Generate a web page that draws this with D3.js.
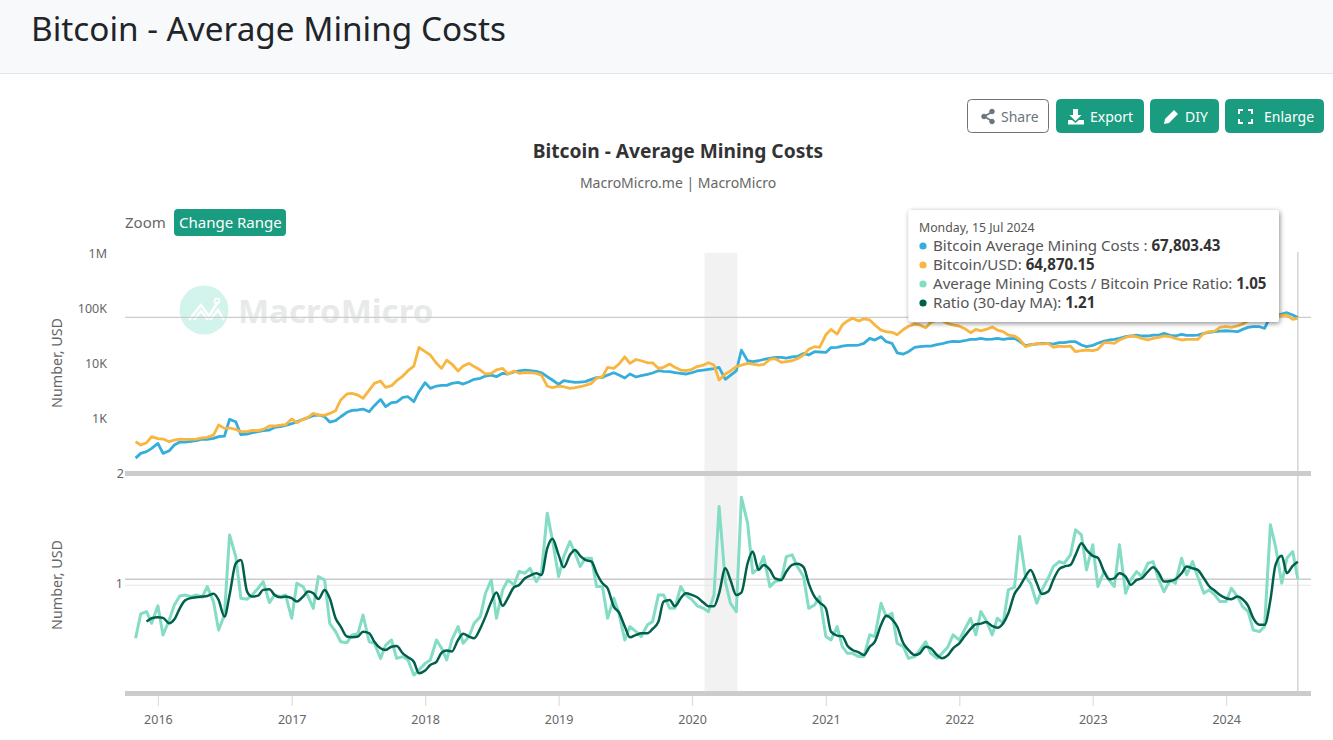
<!DOCTYPE html>
<html>
<head>
<meta charset="utf-8">
<title>Bitcoin - Average Mining Costs</title>
<script src="https://cdn.jsdelivr.net/npm/d3@7"></script>
<style>
  html, body { margin: 0; padding: 0; background: #fff; overflow: hidden; }
  svg { display: block; font-family: "Noto Sans", "Open Sans", sans-serif; }
</style>
</head>
<body>
<svg id="chart" width="1333" height="740"></svg>
<script>
// half-month samples, 2015-11-01 up to 2024-07-15
const sampleCount = 210;
const dates = d3.range(sampleCount).map(i => new Date(2015, 10 + Math.floor(i / 2), i % 2 ? 15 : 1));

const years = [2016, 2017, 2018, 2019, 2020, 2021, 2022, 2023, 2024];
const usdTicks = [1000, 10000, 100000, 1000000];
const usdLabels = ["1K", "10K", "100K", "1M"];
const ratioTicks = [1];
const band = [new Date(2020, 1, 4), new Date(2020, 4, 4)];

const miningCost = [
  190,232,249,285,352,232,259,328,372,372,
  383,394,422,416,434,465,478,960,870,505,
  520,551,573,597,615,686,706,747,801,870,
  960,1030,1119,1151,1070,859,908,1070,1290,1398,
  1419,1477,1323,1700,2210,1630,1926,1980,2410,2470,
  2010,3050,4446,3510,3860,3970,3970,4320,4500,4190,
  4630,5105,5330,5860,6100,5700,6560,6380,6940,7240,
  7530,7330,7120,6730,5700,4966,4140,4830,4630,4500,
  4560,4630,5105,5470,5550,6100,6730,6100,5400,6380,
  5630,5950,6300,6650,7330,7120,7030,6730,6560,6380,
  6730,7240,7530,7750,7980,8430,5105,6030,7240,17300,
  11100,10700,11100,11700,12300,12800,12800,12400,13100,13300,
  15100,14100,16200,16000,15700,19200,19400,20500,21100,21100,
  21400,22900,28300,26300,30200,24600,22900,15500,14700,16200,
  19400,20000,20500,20500,21700,22600,24200,25000,24600,25600,
  27200,27200,28300,27200,27500,28300,27100,27900,28300,25000,
  20800,21700,22300,23000,23000,22300,23600,23600,24600,24600,
  21400,20000,21100,23000,25300,26400,27100,28300,30300,31200,
  32500,31200,31200,32500,32500,34900,32100,31200,33400,32100,
  32100,32500,34900,36300,37400,38400,38900,38400,37400,41200,
  44800,46000,46000,43000,71900,73000,78200,82600,75000,67803.43
];

const btcPrice = [
  378,329,362,465,428,422,378,405,422,416,
  416,422,441,453,499,757,659,669,632,573,
  573,606,597,632,727,727,757,768,974,835,
  960,1040,1230,1151,1133,1230,1380,2153,2770,2850,
  2650,2310,3260,4320,4760,3650,3920,4830,5860,7330,
  8900,19400,16200,14100,9950,8070,11400,9670,7240,8900,
  9950,8700,7530,6380,6560,7600,8070,6380,7240,6560,
  6730,6730,6560,6100,3860,3600,3860,3750,3510,3600,
  3750,3970,4320,5330,5700,8430,8070,9670,13100,9950,
  11700,11100,10200,10200,8070,8430,9670,8430,7530,7330,
  7750,8700,9280,10200,9280,4960,6380,7240,8700,9280,
  9950,9670,9280,9500,11700,12100,10400,10700,11100,12100,
  14100,17900,20000,19400,32800,41000,33900,49500,58500,65600,
  58500,63800,61000,49500,40000,37300,36400,32800,41000,47000,
  51400,49500,44000,55000,61000,59800,52400,49500,47000,42800,
  35800,41000,38600,41000,45300,40000,37400,32500,31200,27100,
  20000,21400,23000,22300,23000,19500,20500,20000,20500,16200,
  16900,17400,16900,17900,23600,23600,23000,26400,29400,31200,
  30300,28300,26400,28300,29400,31200,30300,28300,26400,27100,
  27100,27100,34900,37400,38400,44600,46000,44600,47500,51500,
  59400,65000,75000,80000,75000,75000,73800,75000,62500,64870.15
];

const costRatio = [
  .65,.792,.807,.734,.846,.668,.754,.852,.917,.924,
  .912,.924,.907,.989,.876,.695,.785,1.506,1.262,.9,
  .893,.924,.976,1.03,.869,.924,.912,.924,.765,1.016,
  .989,.912,.829,1.073,1.044,.734,.686,.632,.627,.668,
  .674,.785,.632,.624,.552,.615,.641,.552,.56,.545,
  .482,.502,.53,.545,.641,.599,.545,.641,.715,.624,
  .659,.734,.775,.937,1.044,.765,.963,1.044,1.003,1.118,
  1.103,1.148,1.03,1.103,1.797,1.446,1.073,1.262,1.427,1.297,
  1.164,1.245,1.245,.989,.989,.765,.9,.796,.641,.715,
  .686,.659,.725,.744,.924,.924,.829,.829,.989,.924,
  .888,.846,.829,.807,.924,1.897,1.03,.864,.807,2.045,
  1.656,1.103,1.148,1.262,.989,1.03,1.044,1.262,1.28,1.164,
  1.073,.829,.852,.912,.659,.641,.715,.607,.575,.575,
  .56,.56,.668,.659,.864,.775,.796,.624,.607,.552,
  .56,.591,.632,.575,.552,.575,.607,.668,.641,.695,
  .765,.668,.807,.754,.668,.765,.734,.963,.984,1.486,
  1.073,1.016,.864,.963,1.058,1.164,1.212,1.196,1.28,1.569,
  1.506,1.133,1.389,.989,1.118,1.044,.989,1.389,.937,1.044,
  1.118,1.073,1.196,1.212,1.044,.95,1.044,1.016,1.245,1.088,
  1.212,1.073,.937,.963,.924,.876,.876,.976,.912,.841,
  .807,.695,.686,.715,1.634,1.37,1.016,1.245,1.315,1.05
];

const ratioMA = [
  null,null,.744,.765,.771,.767,.734,.758,.829,.883,
  .902,.907,.912,.917,.934,.888,.775,.924,1.196,1.229,
  .95,.912,.919,.963,.968,.924,.907,.912,.9,.876,
  .912,.95,.937,.895,.963,.9,.765,.715,.659,.655,
  .659,.686,.677,.632,.599,.591,.607,.61,.575,.557,
  .537,.489,.5,.523,.537,.578,.588,.584,.641,.674,
  .659,.65,.705,.775,.876,.942,.846,.9,.984,1.003,
  1.058,1.082,1.103,1.088,1.351,1.46,1.28,1.158,1.28,1.333,
  1.27,1.229,1.212,1.103,1.016,.976,.841,.802,.715,.655,
  .668,.677,.677,.701,.744,.876,.888,.843,.9,.937,
  .924,.907,.869,.843,.843,.937,1.148,1.044,.924,.942,
  1.196,1.315,1.133,1.18,1.133,1.058,1.044,1.118,1.18,1.19,
  1.158,1.016,.912,.869,.829,.686,.664,.661,.612,.591,
  .58,.567,.607,.632,.725,.781,.758,.715,.624,.591,
  .567,.575,.607,.599,.567,.553,.567,.599,.624,.659,
  .701,.729,.732,.742,.718,.708,.734,.796,.932,.989,
  1.073,1.133,1.016,.932,.95,1.044,1.139,1.164,1.18,1.28,
  1.407,1.333,1.27,1.25,1.118,1.05,1.058,1.103,1.073,1.003,
  1.044,1.058,1.118,1.158,1.103,1.03,1.035,1.05,1.103,1.164,
  1.148,1.133,1.058,.994,.957,.924,.9,.893,.912,.893,
  .846,.765,.725,.725,.888,1.18,1.27,1.103,1.17,1.21
];

const pageTitle = "Bitcoin - Average Mining Costs";
const tooltipDate = "Monday, 15 Jul 2024";
const tooltipNames = ["Bitcoin Average Mining Costs : ", "Bitcoin/USD: ", "Average Mining Costs / Bitcoin Price Ratio: ", "Ratio (30-day MA): "];
const tooltipValues = ["67,803.43", "64,870.15", "1.05", "1.21"];

const green = "#1a9c80";
const textGrey = "#666";
const fontStack = '"Noto Sans", "Open Sans", sans-serif';
const colors = { cost: "#36aedb", price: "#f8b53f", ratio: "#85dcc4", ma: "#00604c" };

const svg = d3.select("#chart");

// scales
const left = 125, right = 1311;
const xScale = d3.scaleTime().domain([new Date(2015, 9, 3), new Date(2024, 7, 20)]).range([left, right]);
const yUsd = d3.scaleLog().domain([100, 1000000]).range([473.5, 253]);
const yRatio = d3.scaleLog().domain([0.42, 2.47]).range([692, 474]);
const hoverDate = dates[dates.length - 1];

// page header
svg.append("rect").attr("width", 1333).attr("height", 73).attr("fill", "#f8f9fa");
svg.append("line").attr("x1", 0).attr("x2", 1333).attr("y1", 73.5).attr("y2", 73.5).attr("stroke", "#e4e6e8");
svg.append("text").attr("x", 31).attr("y", 41).attr("font-size", 33.3).attr("fill", "#212529").text(pageTitle);

// toolbar
function button(x, w, label, labelX, filled) {
  const g = svg.append("g");
  g.append("rect").attr("x", x + .5).attr("y", 99.5).attr("width", w - 1).attr("height", 33).attr("rx", 4)
    .attr("fill", filled ? green : "#fff").attr("stroke", filled ? green : "#6c757d");
  g.append("text").attr("x", labelX).attr("y", 122).attr("font-size", 14)
    .attr("fill", filled ? "#fff" : "#6c757d").text(label);
  return g;
}
button(967, 82, "Share", 1001, false);
button(1056, 88, "Export", 1090, true);
button(1150, 69, "DIY", 1185, true);
button(1225, 99, "Enlarge", 1264, true);

// share icon
const share = svg.append("g").attr("stroke", "#6c757d").attr("fill", "#6c757d");
share.append("path").attr("d", "M992 112L984 116.5L992 121").attr("fill", "none").attr("stroke-width", 1.6);
[[992, 111.5], [984, 116.5], [992, 121.5]].forEach(c => share.append("circle").attr("cx", c[0]).attr("cy", c[1]).attr("r", 2.3));
// export icon
svg.append("path").attr("fill", "#fff")
  .attr("d", "M1073 109h5v6h3.5l-6 6l-6-6h3.5zM1068 120h4l3.5 3l3.5-3h5v4.5h-16z");
// pencil icon
svg.append("path").attr("fill", "#fff").attr("d", "M1164 124l1-5l9-9l4 4l-9 9z");
// enlarge icon
svg.append("path").attr("fill", "none").attr("stroke", "#fff").attr("stroke-width", 2)
  .attr("d", "M1239 114v-4h4M1248 110h4v4M1252 119v4h-4M1243 123h-4v-4");

// chart titles
svg.append("text").attr("x", 678).attr("y", 158).attr("text-anchor", "middle").attr("font-size", 19.2)
  .attr("font-weight", 700).attr("fill", "#333").text(pageTitle);
svg.append("text").attr("x", 678).attr("y", 188).attr("text-anchor", "middle").attr("font-size", 14)
  .attr("fill", textGrey).text("MacroMicro.me | MacroMicro");

// zoom row
svg.append("text").attr("x", 125).attr("y", 228).attr("font-size", 15).attr("fill", textGrey).text("Zoom");
svg.append("rect").attr("x", 174).attr("y", 209).attr("width", 112).attr("height", 27).attr("rx", 4).attr("fill", green);
svg.append("text").attr("x", 179).attr("y", 228).attr("font-size", 15).attr("fill", "#fff").text("Change Range");

// watermark
svg.append("circle").attr("cx", 204).attr("cy", 310).attr("r", 24.5).attr("fill", "#d2f4ec");
svg.append("path").attr("fill", "none").attr("stroke", "#fff").attr("stroke-width", 2.5)
  .attr("d", "M189 320L201 305L209 316L218 302M194 320L201 311L208 320M210 320L218 310L224 320");
svg.append("circle").attr("cx", 217).attr("cy", 301).attr("r", 2.5).attr("fill", "none").attr("stroke", "#fff").attr("stroke-width", 1.5);
svg.append("text").attr("x", 238).attr("y", 323).attr("font-size", 33).attr("font-weight", 700)
  .attr("fill", "#e8eaea").text("MacroMicro");

// recession band
svg.append("rect").attr("x", xScale(band[0])).attr("width", xScale(band[1]) - xScale(band[0]))
  .attr("y", 253).attr("height", 439).attr("fill", "#f2f2f2");

// grid + crosshairs
svg.append("line").attr("x1", left).attr("x2", right).attr("y1", yRatio(1)).attr("y2", yRatio(1))
  .attr("stroke", "#e6e6e6").attr("stroke-width", 1.2);
svg.append("line").attr("x1", left).attr("x2", right).attr("y1", yUsd(67803.43)).attr("y2", yUsd(67803.43))
  .attr("stroke", "#ccc").attr("stroke-width", 1.3);
svg.append("line").attr("x1", left).attr("x2", right).attr("y1", yRatio(1.05)).attr("y2", yRatio(1.05))
  .attr("stroke", "#ccc").attr("stroke-width", 1.3);
svg.append("line").attr("x1", xScale(hoverDate)).attr("x2", xScale(hoverDate)).attr("y1", 252).attr("y2", 692)
  .attr("stroke", "#d4d4d4").attr("stroke-width", 1.5);

// panel base lines
[473.5, 693.5].forEach(y => svg.append("rect").attr("x", left).attr("width", right - left)
  .attr("y", y - 2.5).attr("height", 5).attr("fill", "#ccc"));

// axes
const axisX = d3.axisBottom(xScale).tickValues(years.map(y => new Date(y, 0, 1)))
  .tickFormat(d3.timeFormat("%Y")).tickSize(10).tickPadding(9);
const gx = svg.append("g").attr("transform", "translate(0,696)").call(axisX);

const axisUsd = d3.axisLeft(yUsd).tickValues(usdTicks).tickFormat((d, i) => usdLabels[i]).tickSize(0).tickPadding(18);
const gUsd = svg.append("g").attr("transform", `translate(${left},0)`).call(axisUsd);

const axisRatio = d3.axisLeft(yRatio).tickValues(ratioTicks).tickFormat(d3.format("d")).tickSize(0).tickPadding(2);
const gRatio = svg.append("g").attr("transform", `translate(${left},-2)`).call(axisRatio);

[gx, gUsd, gRatio].forEach(g => {
  g.select(".domain").remove();
  g.attr("font-family", fontStack).attr("font-size", 12.5);
  g.selectAll("text").attr("fill", textGrey);
  g.selectAll("line").attr("stroke", "#ddd").attr("stroke-width", 1.2);
});
svg.append("text").attr("x", 124).attr("y", 474).attr("dy", "0.35em").attr("text-anchor", "end")
  .attr("font-size", 12.5).attr("fill", textGrey).text("2");

[363, 585].forEach(y => svg.append("text")
  .attr("transform", `translate(62,${y}) rotate(-90)`).attr("text-anchor", "middle")
  .attr("font-size", 14.3).attr("fill", textGrey).text("Number, USD"));

// series
const usdLine = d3.line().x((d, i) => xScale(dates[i])).y(d => yUsd(d));
const ratioLine = d3.line().defined(d => d !== null).x((d, i) => xScale(dates[i])).y(d => yRatio(d));
const maLine = d3.line().defined(d => d !== null).x((d, i) => xScale(dates[i])).y(d => yRatio(d)).curve(d3.curveMonotoneX);

function drawLine(values, gen, color, width) {
  svg.append("path").datum(values).attr("d", gen).attr("fill", "none")
    .attr("stroke", color).attr("stroke-width", width).attr("stroke-linejoin", "round");
}
drawLine(miningCost, usdLine, colors.cost, 2.8);
drawLine(btcPrice, usdLine, colors.price, 2.8);
drawLine(costRatio, ratioLine, colors.ratio, 3);
drawLine(ratioMA, maLine, colors.ma, 2.5);

// tooltip
const defs = svg.append("defs");
const shadow = defs.append("filter").attr("id", "tipShadow").attr("x", "-5%").attr("y", "-10%").attr("width", "110%").attr("height", "125%");
shadow.append("feDropShadow").attr("dx", 1).attr("dy", 1.5).attr("stdDeviation", 2.5).attr("flood-color", "#000").attr("flood-opacity", .45);

const tip = svg.append("g");
tip.append("rect").attr("x", 908.5).attr("y", 210).attr("width", 370.5).attr("height", 112).attr("rx", 3)
  .attr("fill", "#fff").attr("filter", "url(#tipShadow)");
tip.append("text").attr("x", 919).attr("y", 232).attr("font-size", 12.3).attr("fill", "#555").text(tooltipDate);
const tipColors = [colors.cost, colors.price, colors.ratio, colors.ma];
tooltipNames.forEach((name, i) => {
  const y = 246 + i * 19;
  tip.append("circle").attr("cx", 923).attr("cy", y).attr("r", 3.6).attr("fill", tipColors[i]);
  const t = tip.append("text").attr("x", 933).attr("y", y + 5).attr("font-size", 15.1).attr("fill", "#555").attr("xml:space", "preserve");
  t.append("tspan").text(name);
  t.append("tspan").attr("font-weight", 700).attr("fill", "#333").text(tooltipValues[i]);
});
</script>
</body>
</html>
